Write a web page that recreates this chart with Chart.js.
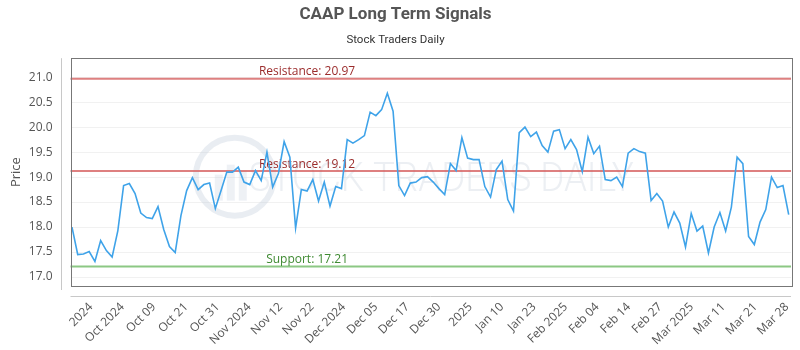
<!DOCTYPE html>
<html>
<head>
<meta charset="utf-8">
<script src="https://cdn.jsdelivr.net/npm/chart.js@4.4.1/dist/chart.umd.min.js"></script>
<style>
  html, body { margin: 0; padding: 0; background: #fff; }
  #wrap { width: 800px; height: 350px; }
</style>
</head>
<body>
<div id="wrap"><canvas id="mainChart"></canvas></div>
<script>
// closing prices, one per trading day
var prices = [
  18.00, 17.45, 17.46, 17.51, 17.31, 17.73, 17.53, 17.40, 17.93, 18.83, 18.87,
  18.67, 18.28, 18.19, 18.17, 18.41, 17.95, 17.61, 17.49, 18.23, 18.73,
  18.99, 18.75, 18.85, 18.88, 18.37, 18.73, 19.10, 19.10, 19.20, 18.90,
  18.85, 19.13, 18.93, 19.50, 18.80, 19.07, 19.71, 19.40, 17.98, 18.75, 18.72,
  18.95, 18.52, 18.90, 18.42, 18.81, 18.77, 19.75, 19.68, 19.75, 19.83,
  20.30, 20.23, 20.35, 20.68, 20.32, 18.83, 18.63, 18.88, 18.90, 18.99, 19.01,
  18.90, 18.77, 18.65, 19.27, 19.13, 19.79, 19.38, 19.35, 19.35, 18.81,
  18.60, 19.15, 19.32, 18.55, 18.32, 19.89, 20.00, 19.81, 19.90, 19.63, 19.50,
  19.92, 19.95, 19.57, 19.75, 19.55, 19.11, 19.80, 19.47, 19.62, 18.95,
  18.93, 19.00, 18.81, 19.48, 19.57, 19.51, 19.48, 18.53, 18.67, 18.52, 18.00,
  18.30, 18.08, 17.60, 18.27, 17.92, 18.02, 17.48, 18.00, 18.29, 17.92,
  18.40, 19.40, 19.27, 17.81, 17.65, 18.10, 18.35, 19.00, 18.79, 18.83, 18.25
];

// x axis labels and where they sit (in trading-day index)
var tickLabels = ['2024', 'Oct 2024', 'Oct 09', 'Oct 21', 'Oct 31', 'Nov 2024', 'Nov 12',
  'Nov 22', 'Dec 2024', 'Dec 05', 'Dec 17', 'Dec 30', '2025', 'Jan 10', 'Jan 23',
  'Feb 2025', 'Feb 04', 'Feb 14', 'Feb 27', 'Mar 2025', 'Mar 11', 'Mar 21', 'Mar 28'];
var tickIndex = [3.3, 8.8, 14.3, 19.9, 25.4, 30.9, 36.4, 41.9, 47.4, 53.0, 58.5, 64.0,
  69.5, 75.0, 80.6, 86.1, 91.6, 97.1, 102.6, 108.1, 113.6, 119.2, 124.7];

var priceTicks = [17.0, 17.5, 18.0, 18.5, 19.0, 19.5, 20.0, 20.5, 21.0];

// support / resistance levels
var levelNames = ['Resistance', 'Resistance', 'Support'];
var levelValues = [20.97, 19.12, 17.21];
var levelLine = ['rgba(214,96,96,0.8)', 'rgba(214,96,96,0.8)', 'rgba(120,190,110,0.85)'];
var levelText = ['#9b2c2c', '#9b2c2c', '#3f8a32'];
var levelLabelAt = 41;

var points = prices.map(function (p, i) { return { x: i, y: p }; });

// frame, level lines and faint watermark
var decor = {
  id: 'decor',
  beforeDatasetsDraw: function (chart) {
    var ctx = chart.ctx, a = chart.chartArea;
    var xs = chart.scales.x, ys = chart.scales.y;
    ctx.save();
    // watermark
    var cx = a.left + (a.right - a.left) * 0.228, cy = a.top + (a.bottom - a.top) * 0.52;
    ctx.strokeStyle = 'rgba(200,210,222,0.4)';
    ctx.lineWidth = 6;
    ctx.beginPath();
    ctx.arc(cx, cy, 39, 0, Math.PI * 2);
    ctx.stroke();
    ctx.fillStyle = 'rgba(200,210,222,0.3)';
    ctx.fillRect(cx - 20, cy - 2, 8, 26);
    ctx.fillRect(cx - 8, cy - 12, 8, 36);
    ctx.fillRect(cx + 4, cy - 6, 8, 30);
    ctx.font = '300 41px Roboto';
    ctx.textBaseline = 'middle';
    ctx.textAlign = 'left';
    ctx.fillStyle = 'rgba(200,210,222,0.35)';
    var wm = 'STOCK TRADERS DAILY';
    var sx = 385 / ctx.measureText(wm).width;
    ctx.translate(cx + 14, cy + 4);
    ctx.scale(sx, 1);
    ctx.fillText(wm, 0, 0);
    ctx.setTransform(1, 0, 0, 1, 0, 0);
    // levels
    for (var i = 0; i < levelValues.length; i++) {
      var y = ys.getPixelForValue(levelValues[i]);
      ctx.strokeStyle = levelLine[i];
      ctx.lineWidth = 2;
      ctx.beginPath();
      ctx.moveTo(a.left, y);
      ctx.lineTo(a.right, y);
      ctx.stroke();
      ctx.fillStyle = levelText[i];
      ctx.font = '12px "Open Sans"';
      ctx.textAlign = 'center';
      ctx.textBaseline = 'bottom';
      ctx.fillText(levelNames[i] + ': ' + levelValues[i].toFixed(2), xs.getPixelForValue(levelLabelAt), y - 1);
    }
    ctx.restore();
  },
  afterDraw: function (chart) {
    var ctx = chart.ctx, a = chart.chartArea;
    ctx.save();
    ctx.strokeStyle = '#777';
    ctx.lineWidth = 1;
    ctx.strokeRect(Math.round(a.left) + 0.5, Math.round(a.top) + 0.5,
      Math.round(a.right - a.left), Math.round(a.bottom - a.top));
    ctx.strokeStyle = '#c8c8c8';
    ctx.beginPath();
    ctx.moveTo(Math.round(a.left) - 9.5, a.top);
    ctx.lineTo(Math.round(a.left) - 9.5, a.bottom + 4);
    ctx.moveTo(a.left, Math.round(a.bottom) + 10.5);
    ctx.lineTo(a.right, Math.round(a.bottom) + 10.5);
    ctx.stroke();
    ctx.restore();
  }
};

var ctx = document.getElementById('mainChart').getContext('2d');
var chart = new Chart(ctx, {
  type: 'line',
  data: {
    datasets: [{
      label: 'CAAP',
      data: points,
      borderColor: '#3fa3e9',
      borderWidth: 1.6,
      pointRadius: 0,
      tension: 0,
      fill: false
    }]
  },
  options: {
    responsive: true,
    maintainAspectRatio: false,
    animation: false,
    layout: { padding: { left: 0, right: 9, top: 0, bottom: 0 } },
    plugins: {
      legend: { display: false },
      tooltip: { enabled: false },
      title: {
        display: true,
        text: 'CAAP Long Term Signals',
        color: '#555',
        font: { family: 'Roboto', size: 17, weight: 'bold' },
        padding: { top: 5, bottom: 8 }
      },
      subtitle: {
        display: true,
        text: 'Stock Traders Daily',
        color: '#333',
        font: { family: 'Roboto', size: 11.5 },
        padding: { top: 0, bottom: 11 }
      }
    },
    scales: {
      x: {
        type: 'linear',
        min: -0.26,
        max: 125.4,
        afterFit: function (s) {
          s.height = 64;
          s.paddingLeft = 0;
          s.paddingRight = 0;
        },
        afterBuildTicks: function (s) {
          s.ticks = tickIndex.map(function (v) { return { value: v }; });
        },
        grid: { display: false, drawTicks: false },
        border: { display: false },
        ticks: {
          autoSkip: false,
          minRotation: 45,
          maxRotation: 45,
          padding: 14,
          color: '#555',
          font: { family: 'Open Sans', size: 12 },
          callback: function (v, i) { return tickLabels[i]; }
        }
      },
      y: {
        min: 16.82,
        max: 21.38,
        afterFit: function (s) { s.width = 70.5; },
        afterBuildTicks: function (s) {
          s.ticks = priceTicks.map(function (v) { return { value: v }; });
        },
        grid: { color: '#f1f1f1', drawTicks: false },
        border: { display: false },
        ticks: {
          padding: 18,
          color: '#555',
          font: { family: 'Open Sans', size: 12 },
          callback: function (v) { return v.toFixed(1); }
        },
        title: {
          display: true,
          text: 'Price',
          color: '#555',
          font: { family: 'Open Sans', size: 13 },
          padding: { top: 8, bottom: 0 }
        }
      }
    }
  },
  plugins: [decor]
});
</script>
</body>
</html>
